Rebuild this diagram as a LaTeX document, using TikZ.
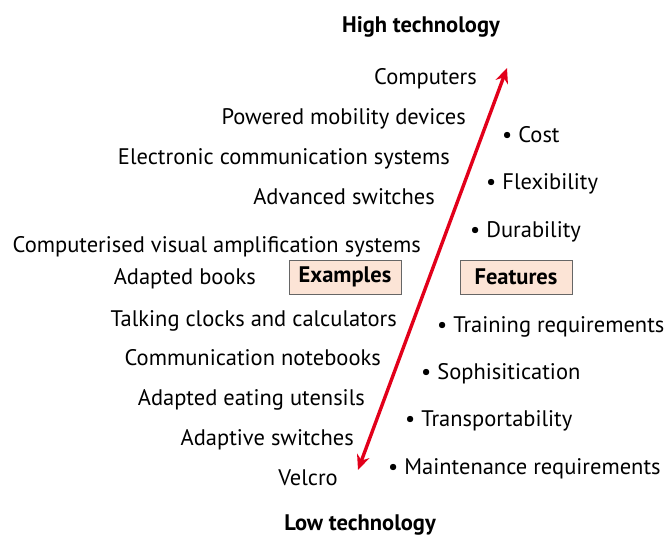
\documentclass[tikz,border=0pt]{standalone}
\usepackage{fontspec}
\setmainfont{PT Sans}
\usetikzlibrary{arrows.meta}
\definecolor{arrowred}{HTML}{E2001A}
\definecolor{boxfill}{HTML}{FCE4D6}
\begin{document}
\begin{tikzpicture}[x=1pt,y=-1pt,font=\fontsize{22.5}{26}\selectfont,
	item/.style={inner sep=0pt,anchor=base east},
	feat/.style={inner sep=0pt,anchor=base west},
	head/.style={inner sep=0pt,font=\fontsize{22.5}{26}\selectfont\bfseries},
	tag/.style={draw=gray!80!black,fill=boxfill,minimum width=112pt,minimum height=34pt,inner sep=0pt,font=\fontsize{22.5}{26}\selectfont\bfseries}]
				\useasboundingbox (0,0) rectangle (665,536);
				\path (358,470) coordinate (low) (507,68) coordinate (high);
				\node[head] (hightech) at (421,27) {High technology};
				\node[head] (lowtech) at (360,525) {Low technology};
				\node[tag] (examples) at (345,277) {Examples};
				\node[tag] (features) at (516,277) {Features};
				\draw[arrowred,line width=3.4pt,{Stealth[length=15pt,width=13pt]}-{Stealth[length=15pt,width=13pt]}] (low) -- (high);
				\foreach \i/\t/\x/\y in {1/Computers/477/84,2/Powered mobility devices/466/124,3/Electronic communication systems/450/164,4/Advanced switches/435/204,5/Computerised visual amplification systems/421/252,6/Adapted books/256/284,7/Talking clocks and calculators/397/326,8/Communication notebooks/381/365,9/Adapted eating utensils/365/405,10/Adaptive switches/354/445,11/Velcro/338/485}
				\node[item] (ex\i) at (\x,\y) {\t};
				\foreach \i/\t/\x/\y in {1/Cost/502/142,2/Flexibility/486/189,3/Durability/470/237,4/Training requirements/437/332,5/Sophisitication/421/379,6/Transportability/405/426,7/Maintenance requirements/388/474}
				\node[feat] (ft\i) at (\x,\y) {\textbullet\ \t};
			\end{tikzpicture}
\end{document}
